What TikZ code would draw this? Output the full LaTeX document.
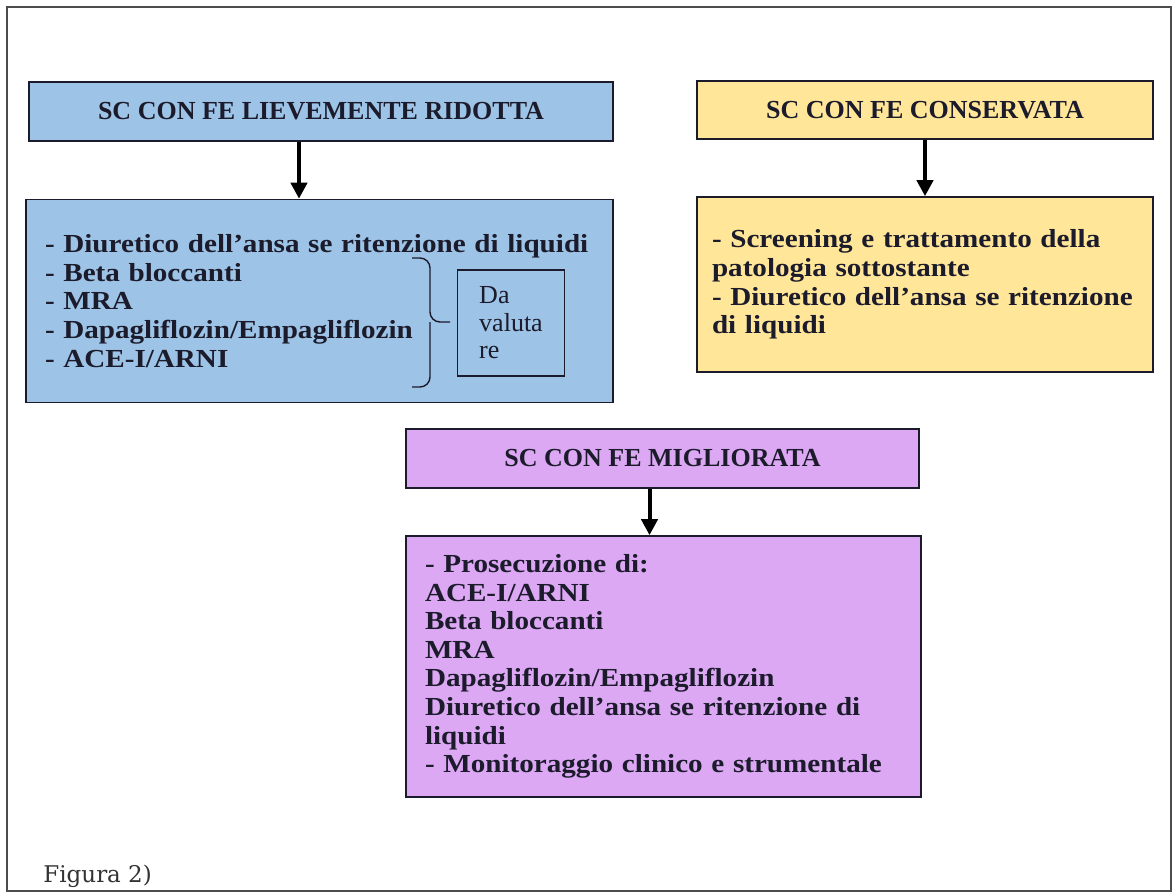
\documentclass[tikz,border=0pt]{standalone}
\usepackage{fontspec}
\setmainfont{Liberation Serif}
\newfontfamily\bodyfont{Liberation Serif}[FakeStretch=1.12]
\newfontfamily\figfont{DejaVu Serif}
\usetikzlibrary{arrows.meta}
\definecolor{bluebox}{HTML}{9DC3E6}
\definecolor{yellowbox}{HTML}{FFE699}
\definecolor{violetbox}{HTML}{DCA8F4}
\definecolor{ink}{HTML}{1B1B2B}

\begin{document}
\begin{tikzpicture}[x=0.5pt,y=-0.5pt,
    box/.style={draw=ink,line width=0.8pt,inner sep=0pt},
    head/.style={box,font=\fontsize{13}{14.25}\selectfont\bfseries,text=ink},
    list/.style={box,font=\bodyfont\fontsize{13}{14.3}\selectfont\bfseries,text=ink,align=left},
    curl/.style={ink,line width=0.7pt,rounded corners=5pt},
    arr/.style={-{Triangle[length=8pt,width=8pt]},line width=2pt}]
          \useasboundingbox (0,0) rectangle (1176,895);
          \draw[black!70,line width=0.7pt] (7,7) rectangle (1171,891);

          \node[head,fill=bluebox,minimum width=292pt,minimum height=29.5pt] (bh) at (321,111.5) {SC CON FE LIEVEMENTE RIDOTTA};
          \node[list,fill=bluebox,text width=274.5pt,inner xsep=9.5pt,minimum height=101.5pt] (bb) at (319.5,301)
               {- Diuretico dell’ansa se ritenzione di liquidi\\- Beta bloccanti\\- MRA\\- Dapagliflozin/Empagliflozin\\- ACE-I/ARNI};

          \node[head,fill=yellowbox,minimum width=228pt,minimum height=29pt] (yh) at (925,110) {SC CON FE CONSERVATA};
          \node[list,fill=yellowbox,text width=213pt,inner xsep=7.5pt,minimum height=87.5pt] (yb) at (925,284.5)
               {- Screening e trattamento della\\patologia sottostante\\- Diuretico dell’ansa se ritenzione\\di liquidi};

          \node[head,fill=violetbox,minimum width=256.5pt,minimum height=29.5pt] (ph) at (662.5,458.5) {SC CON FE MIGLIORATA};
          \node[list,fill=violetbox,text width=238.5pt,inner xsep=9.5pt,minimum height=130.5pt] (pb) at (663.5,666.5)
               {- Prosecuzione di:\\ACE-I/ARNI\\Beta bloccanti\\MRA\\Dapagliflozin/Empagliflozin\\Diuretico dell’ansa se ritenzione di\\liquidi\\- Monitoraggio clinico e strumentale};

          % da valutare
          \node[draw=ink,line width=0.8pt,align=left,minimum width=53.5pt,minimum height=53pt,
                font=\fontsize{13}{13.75}\selectfont,text=ink] (dv) at (511,323) {Da\\valuta\\re};
          \coordinate (brT) at (412,258);
          \coordinate (brB) at (412,387);
          \coordinate (brTip) at (450,322);
          \draw[curl] (brT) -| ([xshift=-10pt]brTip) -- (brTip);
          \draw[curl] (brB) -| ([xshift=-10pt]brTip);

          \draw[arr] ([xshift=-11pt]bh.south) -- ([xshift=-11pt]bh.south |- bb.north);
          \draw[arr] (yh.south) -- (yb.north);
          \draw[arr] ([xshift=-6.5pt]ph.south) -- ([xshift=-6.5pt]ph.south |- pb.north);

          \node[anchor=west,inner sep=0pt,font=\figfont\fontsize{11.5}{13}\selectfont,text=black!80] (fig) at (43,876) {Figura 2)};
        \end{tikzpicture}
\end{document}
